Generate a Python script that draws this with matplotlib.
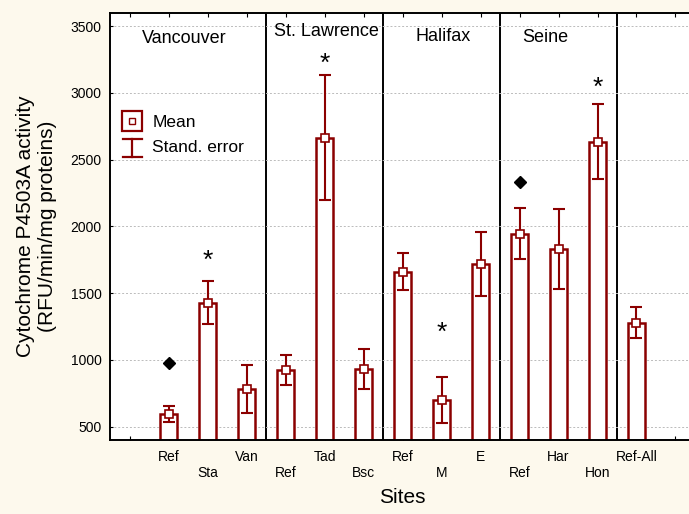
import matplotlib
matplotlib.use("Agg")
import matplotlib.pyplot as plt
from matplotlib.lines import Line2D
from matplotlib.legend_handler import HandlerBase

plt.rcParams['font.family'] = ['Liberation Sans', 'DejaVu Sans']

# data
sites = ['Ref', 'Sta', 'Van', 'Ref', 'Tad', 'Bsc', 'Ref', 'M', 'E', 'Ref', 'Har', 'Hon', 'Ref-All']
means = [595, 1430, 780, 925, 2665, 930, 1660, 700, 1720, 1945, 1830, 2635, 1280]
serr = [62, 160, 180, 115, 470, 150, 140, 170, 240, 190, 300, 280, 115]
regions = ['Vancouver', 'St. Lawrence', 'Halifax', 'Seine']
region_x = [1.41, 5.05, 8.03, 10.67]
region_y = [3410, 3462, 3425, 3418]
separators = [3.5, 6.5, 9.5, 12.5]
star_sites = [2, 5, 8, 12]
star_y = [1740, 3220, 1200, 3040]
diamond_sites = [1, 10]
diamond_y = [980, 2330]

red = '#8b0000'
pos = list(range(1, len(sites) + 1))


class MeanBox(HandlerBase):
    def create_artists(self, legend, orig, xd, yd, w, h, fs, trans):
        cx, cy = xd + w / 2, yd + h / 2
        big = Line2D([cx], [cy], ls='none', marker='s', ms=15, mfc='white', mec=red, mew=1.6, transform=trans)
        small = Line2D([cx], [cy], ls='none', marker='s', ms=5, mfc='white', mec=red, mew=1, transform=trans)
        return [big, small]


class ErrBeam(HandlerBase):
    def create_artists(self, legend, orig, xd, yd, w, h, fs, trans):
        cx = xd + w / 2
        y0, y1 = yd - 0.4 * h, yd + 1.15 * h
        lines = [Line2D([cx, cx], [y0, y1], color=red, lw=1.6, transform=trans),
                 Line2D([xd, xd + w], [y0, y0], color=red, lw=1.6, transform=trans),
                 Line2D([xd, xd + w], [y1, y1], color=red, lw=1.6, transform=trans)]
        return lines


fig = plt.figure(figsize=(6.89, 5.14), dpi=100, facecolor='#fdf9ed')
ax = fig.add_axes([0.1597, 0.144, 0.849, 0.831])

ax.bar(pos, means, width=0.42, bottom=0, color='white', edgecolor=red, linewidth=1.8, zorder=2)
ax.errorbar(pos, means, yerr=serr, fmt='none', ecolor=red, elinewidth=1.5,
            capsize=4, capthick=1.5, zorder=3)
ax.plot(pos, means, 's', ms=6, mfc='white', mec=red, mew=1.2, zorder=4)

for s in separators:
    ax.axvline(s, color='black', lw=1.4, zorder=1)

for name, x, y in zip(regions, region_x, region_y):
    ax.text(x, y, name, ha='center', va='center', fontsize=13)

for x, y in zip(star_sites, star_y):
    ax.text(x, y, '*', ha='center', va='center', fontsize=19)
ax.plot(diamond_sites, diamond_y, ls='none', marker='D', ms=6, color='black')

ax.set_xlim(-0.5, 14.5)
ax.set_ylim(400, 3600)
ax.set_yticks([500, 1000, 1500, 2000, 2500, 3000, 3500])
ax.set_xticks(range(0, 15))
labels = [''] + [s if i % 2 == 0 else '\n' + s for i, s in enumerate(sites)] + ['']
ax.set_xticklabels(labels, fontsize=10)
ax.tick_params(axis='x', direction='in', top=True, length=3, pad=7)
ax.tick_params(axis='y', direction='in', length=2, labelsize=10, pad=6)
ax.grid(axis='y', ls=(0, (2, 2)), color='#bbbbbb', lw=0.7, zorder=0)
for sp in ax.spines.values():
    sp.set_linewidth(1.4)

ax.set_ylabel('Cytochrome P4503A activity\n(RFU/min/mg proteins)', fontsize=15, labelpad=10)
ax.set_xlabel('Sites', fontsize=15, labelpad=6)

h_mean = Line2D([], [])
h_err = Line2D([], [])
ax.legend([h_mean, h_err], ['Mean', 'Stand. error'],
          handler_map={h_mean: MeanBox(), h_err: ErrBeam()},
          loc='upper left', bbox_to_anchor=(-0.005, 0.798), frameon=False,
          fontsize=12.5, handlelength=1.1, handletextpad=0.6, labelspacing=0.6)

fig.savefig('out.png', dpi=100, facecolor=fig.get_facecolor())
